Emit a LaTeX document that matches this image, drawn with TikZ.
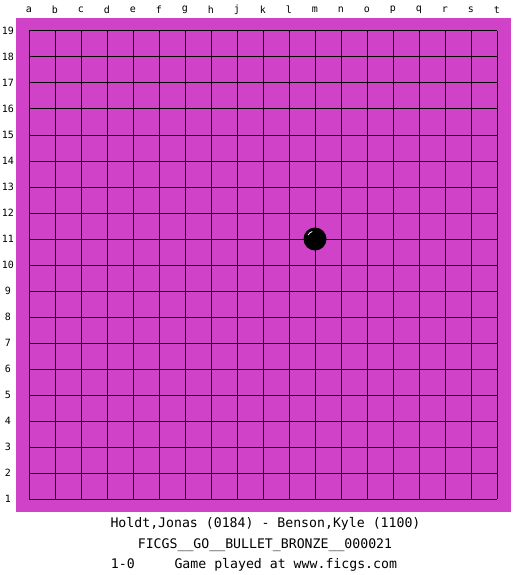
\documentclass[tikz,border=0pt]{standalone}
\usepackage{fontspec}
\setmonofont{DejaVu Sans Mono}
\definecolor{board}{RGB}{208,66,200}

\begin{document}
\begin{tikzpicture}[x=1pt,y=-1pt]
        \tikzset{coord/.style = {font=\ttfamily\fontsize{10}{12}\selectfont, inner sep=0pt}}
        \tikzset{caption/.style = {font=\ttfamily\fontsize{13.2}{15}\selectfont, inner sep=0pt}}
        \tikzset{gridline/.style = {black, line width=1pt}}
        \useasboundingbox (0,0) rectangle (525,575);
        % board
        \fill[board] (16,18) rectangle (511,512);
        \foreach \i in {0,...,18}{
            \draw[gridline] (29+26*\i,31) -- (29+26*\i,499);
            \draw[gridline] (29,31+26*\i) -- (497,31+26*\i);
        }
        % coordinates
        \foreach \l [count=\i from 0] in {a,b,c,d,e,f,g,h,j,k,l,m,n,o,p,q,r,s,t}
            \node[coord] (col\l) at (29+26*\i,10) {\l};
        \foreach \r in {1,...,19}
            \node[coord] (row\r) at (8,31+26*19-26*\r) {\r};
        % stone
        \node[circle, fill=black, minimum size=23pt, inner sep=0pt] (stone) at (315,239) {};
        \draw[white, line width=0.8pt] (stone.center) ++(210:8) arc (210:250:8);
        % captions
        \node[caption] (players) at (265.5,524) {Holdt,Jonas (0184) - Benson,Kyle (1100)};
        \node[caption] (event) at (265,545) {FICGS\_\_GO\_\_BULLET\_BRONZE\_\_000021};
        \node[caption] (result) at (254,565) {1-0\ \ \ \ \ Game played at www.ficgs.com};
    \end{tikzpicture}
\end{document}
